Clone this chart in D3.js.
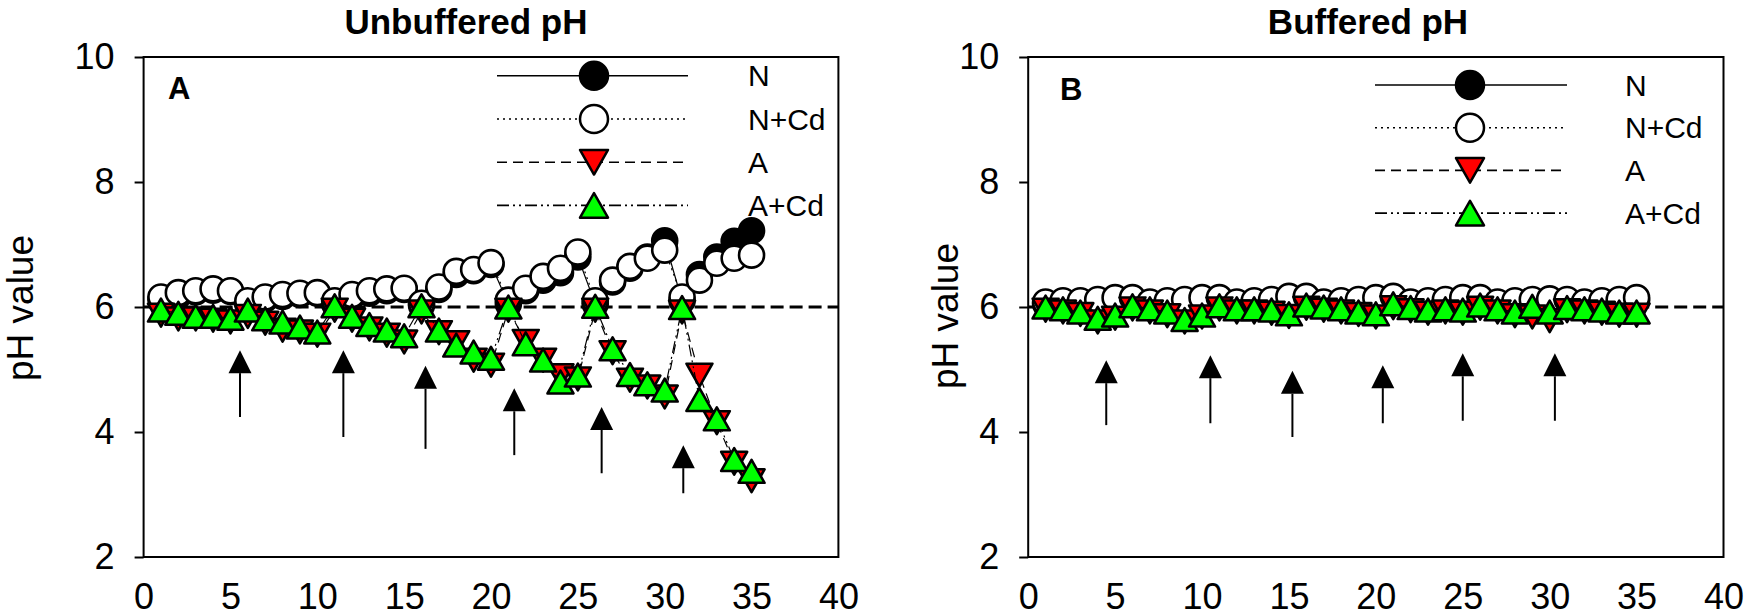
<!DOCTYPE html>
<html>
<head>
<meta charset="utf-8">
<script src="https://cdn.jsdelivr.net/npm/d3@7"></script>
<style>
  html, body { margin: 0; padding: 0; background: #fff; }
  svg { display: block; }
  text { font-family: "Liberation Sans", Arial, Helvetica, sans-serif; fill: #000; }
</style>
</head>
<body>
<svg id="chart" width="1750" height="616"></svg>
<script>
// ---------------- DATA ----------------
const days = [1,2,3,4,5,6,7,8,9,10,11,12,13,14,15,16,17,18,19,20,21,22,23,24,25,26,27,28,29,30,31,32,33,34,35];
const xTicks = [0,5,10,15,20,25,30,35,40];
const yTicks = [2,4,6,8,10];
const seriesNames = ["N", "N+Cd", "A", "A+Cd"];
const panelTitles = ["Unbuffered pH", "Buffered pH"];
const panelLetters = ["A", "B"];
const yAxisLabel = "pH value";
const referencePH = 6;

// Panel A – unbuffered
const unbufN    = [6.12,6.18,6.24,6.27,6.25,6.05,6.13,6.17,6.20,6.22,6.05,6.17,6.22,6.26,6.28,6.03,6.28,6.52,6.58,6.68,6.05,6.26,6.43,6.55,6.80,6.05,6.40,6.62,6.80,7.06,6.10,6.52,6.80,7.05,7.22];
const unbufNCd  = [6.16,6.23,6.26,6.29,6.26,6.10,6.16,6.20,6.22,6.23,6.10,6.20,6.26,6.29,6.30,6.06,6.32,6.57,6.60,6.71,6.11,6.30,6.49,6.62,6.88,6.10,6.43,6.65,6.78,6.91,6.16,6.43,6.70,6.78,6.83];
const unbufA    = [5.87,5.81,5.81,5.79,5.76,5.85,5.74,5.63,5.60,5.55,5.95,5.79,5.65,5.55,5.44,5.92,5.59,5.43,5.15,5.07,5.95,5.45,5.15,4.90,4.85,5.95,5.27,4.83,4.72,4.56,5.92,4.91,4.15,3.50,3.22];
const unbufACd  = [5.95,5.90,5.85,5.85,5.82,5.95,5.81,5.76,5.68,5.60,6.02,5.85,5.72,5.63,5.54,6.02,5.63,5.39,5.28,5.18,6.00,5.41,5.15,4.80,4.91,6.01,5.33,4.92,4.77,4.67,5.99,4.52,4.21,3.56,3.37];
// arrows: x position, tail (bottom) and tip (top) in pH units
const unbufArrowX    = [5.55, 11.5, 16.23, 21.34, 26.37, 31.07];
const unbufArrowTail = [4.24, 3.92, 3.73, 3.63, 3.34, 3.02];
const unbufArrowTip  = [5.31, 5.31, 5.06, 4.70, 4.40, 3.79];

// Panel B – buffered
const bufN    = [6.05,6.06,6.07,6.08,6.10,6.11,6.05,6.06,6.08,6.10,6.12,6.05,6.06,6.08,6.12,6.13,6.05,6.06,6.08,6.10,6.13,6.05,6.06,6.08,6.10,6.12,6.05,6.06,6.08,6.09,6.08,6.05,6.06,6.08,6.11];
const bufNCd  = [6.08,6.10,6.10,6.12,6.15,6.15,6.08,6.10,6.12,6.15,6.15,6.08,6.10,6.12,6.17,6.17,6.08,6.10,6.12,6.15,6.17,6.08,6.10,6.12,6.15,6.15,6.08,6.10,6.12,6.13,6.12,6.08,6.10,6.12,6.15];
const bufA    = [5.95,5.92,5.88,5.76,5.82,5.97,5.92,5.86,5.76,5.84,5.97,5.92,5.92,5.90,5.85,5.98,5.95,5.92,5.88,5.84,5.99,5.94,5.90,5.92,5.90,5.98,5.92,5.86,5.84,5.78,5.94,5.92,5.90,5.87,5.87];
const bufACd  = [6.00,5.97,5.92,5.82,5.87,6.02,5.97,5.92,5.80,5.87,6.02,5.97,5.97,5.95,5.89,6.03,6.00,5.97,5.92,5.89,6.05,5.99,5.95,5.97,5.95,6.03,5.97,5.92,6.01,5.92,5.99,5.97,5.95,5.92,5.92];
const bufArrowX    = [4.49, 10.48, 15.2, 20.4, 25.0, 30.3];
const bufArrowTail = [4.11, 4.14, 3.92, 4.14, 4.18, 4.18];
const bufArrowTip  = [5.15, 5.23, 4.98, 5.07, 5.26, 5.26];

// ---------------- STYLES / LAYOUT ----------------
const seriesStyle = [
  { shape: "circle", fill: "#000000", dash: null },
  { shape: "circle", fill: "#ffffff", dash: "2,4" },
  { shape: "down",   fill: "#ff0000", dash: "10,6" },
  { shape: "up",     fill: "#00ff00", dash: "12,4,2,4,2,4" }
];

const panels = [
  { left: 143.6, right: 838.4, top: 57, bottom: 557,
    title: panelTitles[0], titleX: 466, titleY: 34,
    letter: panelLetters[0], letterX: 168, letterY: 99,
    ylabX: 33, ylabY: 308,
    legend: { x1: 497, x2: 688, xm: 594, xl: 748, y0: 75.8, dy: 43.2 },
    values: [unbufN, unbufNCd, unbufA, unbufACd],
    arrows: { x: unbufArrowX, tail: unbufArrowTail, tip: unbufArrowTip } },
  { left: 1028.2, right: 1723.5, top: 57, bottom: 557,
    title: panelTitles[1], titleX: 1368, titleY: 34,
    letter: panelLetters[1], letterX: 1060, letterY: 100,
    ylabX: 958, ylabY: 316,
    legend: { x1: 1375, x2: 1567, xm: 1470, xl: 1625, y0: 85, dy: 42.7 },
    values: [bufN, bufNCd, bufA, bufACd],
    arrows: { x: bufArrowX, tail: bufArrowTail, tip: bufArrowTip } }
];

const svg = d3.select("#chart");

function markerPath(shape, size) {
  if (shape === "circle") {
    return d3.symbol().type(d3.symbolCircle).size(Math.PI * size * size / 4)();
  }
  const w = size, h = size * 0.88;
  if (shape === "up") {
    return `M0,${-h/2}L${w/2},${h/2}L${-w/2},${h/2}Z`;
  }
  return `M0,${h/2}L${w/2},${-h/2}L${-w/2},${-h/2}Z`;
}

panels.forEach(p => {
  const x = d3.scaleLinear().domain([0, 40]).range([p.left, p.right]);
  const y = d3.scaleLinear().domain([2, 10]).range([p.bottom, p.top]);
  const g = svg.append("g");

  // reference dashed line at pH 6
  g.append("line")
    .attr("x1", x(0)).attr("x2", x(40))
    .attr("y1", y(referencePH)).attr("y2", y(referencePH))
    .attr("stroke", "#000").attr("stroke-width", 3)
    .attr("stroke-dasharray", "13,6");

  // arrows
  p.arrows.x.forEach((ax, i) => {
    const xt = x(ax), yTip = y(p.arrows.tip[i]), yTail = y(p.arrows.tail[i]);
    const hw = 11.5, hh = 23;
    g.append("line")
      .attr("x1", xt).attr("x2", xt)
      .attr("y1", yTail).attr("y2", yTip + hh)
      .attr("stroke", "#000").attr("stroke-width", 2);
    g.append("path")
      .attr("d", `M${xt},${yTip}L${xt + hw},${yTip + hh}L${xt - hw},${yTip + hh}Z`)
      .attr("fill", "#000");
  });

  // series: line then markers
  p.values.forEach((vals, si) => {
    const st = seriesStyle[si];
    const line = d3.line().x((d, i) => x(days[i])).y(d => y(d));
    g.append("path")
      .datum(vals)
      .attr("d", line)
      .attr("fill", "none")
      .attr("stroke", "#000")
      .attr("stroke-width", 1.2)
      .attr("stroke-dasharray", st.dash);
    const msize = st.shape === "circle" ? 25 : 26;
    g.selectAll(null)
      .data(vals)
      .join("path")
      .attr("transform", (d, i) => `translate(${x(days[i])},${y(d)})`)
      .attr("d", markerPath(st.shape, msize))
      .attr("fill", st.fill)
      .attr("stroke", "#000")
      .attr("stroke-width", 2.6)
      .attr("stroke-linejoin", "round");
  });

  // frame
  g.append("rect")
    .attr("x", p.left).attr("y", p.top)
    .attr("width", p.right - p.left).attr("height", p.bottom - p.top)
    .attr("fill", "none").attr("stroke", "#000").attr("stroke-width", 2);

  // axes
  const yAxis = g.append("g")
    .attr("transform", `translate(${p.left},0)`)
    .call(d3.axisLeft(y).tickValues(yTicks).tickSize(9).tickPadding(20).tickFormat(d3.format("d")));
  yAxis.select(".domain").remove();
  yAxis.selectAll(".tick line").attr("stroke-width", 2);
  yAxis.selectAll("text").attr("font-size", 36).attr("font-family", "Liberation Sans, Arial, sans-serif").attr("fill", "#000");

  const xAxis = g.append("g")
    .attr("transform", `translate(0,${p.bottom})`)
    .call(d3.axisBottom(x).tickValues(xTicks).tickSize(0).tickPadding(26).tickFormat(d3.format("d")));
  xAxis.select(".domain").remove();
  xAxis.selectAll("text").attr("font-size", 36).attr("font-family", "Liberation Sans, Arial, sans-serif").attr("fill", "#000");

  // title
  g.append("text")
    .attr("x", p.titleX).attr("y", p.titleY)
    .attr("text-anchor", "middle")
    .attr("font-size", 35).attr("font-weight", "bold")
    .text(p.title);

  // panel letter
  g.append("text")
    .attr("x", p.letterX).attr("y", p.letterY)
    .attr("font-size", 31).attr("font-weight", "bold")
    .text(p.letter);

  // y label
  g.append("text")
    .attr("transform", `translate(${p.ylabX},${p.ylabY}) rotate(-90)`)
    .attr("text-anchor", "middle")
    .attr("font-size", 37)
    .text(yAxisLabel);

  // legend
  seriesNames.forEach((name, si) => {
    const st = seriesStyle[si];
    const ly = p.legend.y0 + si * p.legend.dy;
    g.append("line")
      .attr("x1", p.legend.x1).attr("x2", p.legend.x2)
      .attr("y1", ly).attr("y2", ly)
      .attr("stroke", "#000").attr("stroke-width", 1.6)
      .attr("stroke-dasharray", st.dash);
    g.append("path")
      .attr("transform", `translate(${p.legend.xm},${ly})`)
      .attr("d", markerPath(st.shape, st.shape === "circle" ? 28 : 28))
      .attr("fill", st.fill)
      .attr("stroke", "#000")
      .attr("stroke-width", 2.5)
      .attr("stroke-linejoin", "round");
    g.append("text")
      .attr("x", p.legend.xl).attr("y", ly)
      .attr("dy", "0.35em")
      .attr("font-size", 30)
      .text(name);
  });
});
</script>
</body>
</html>
